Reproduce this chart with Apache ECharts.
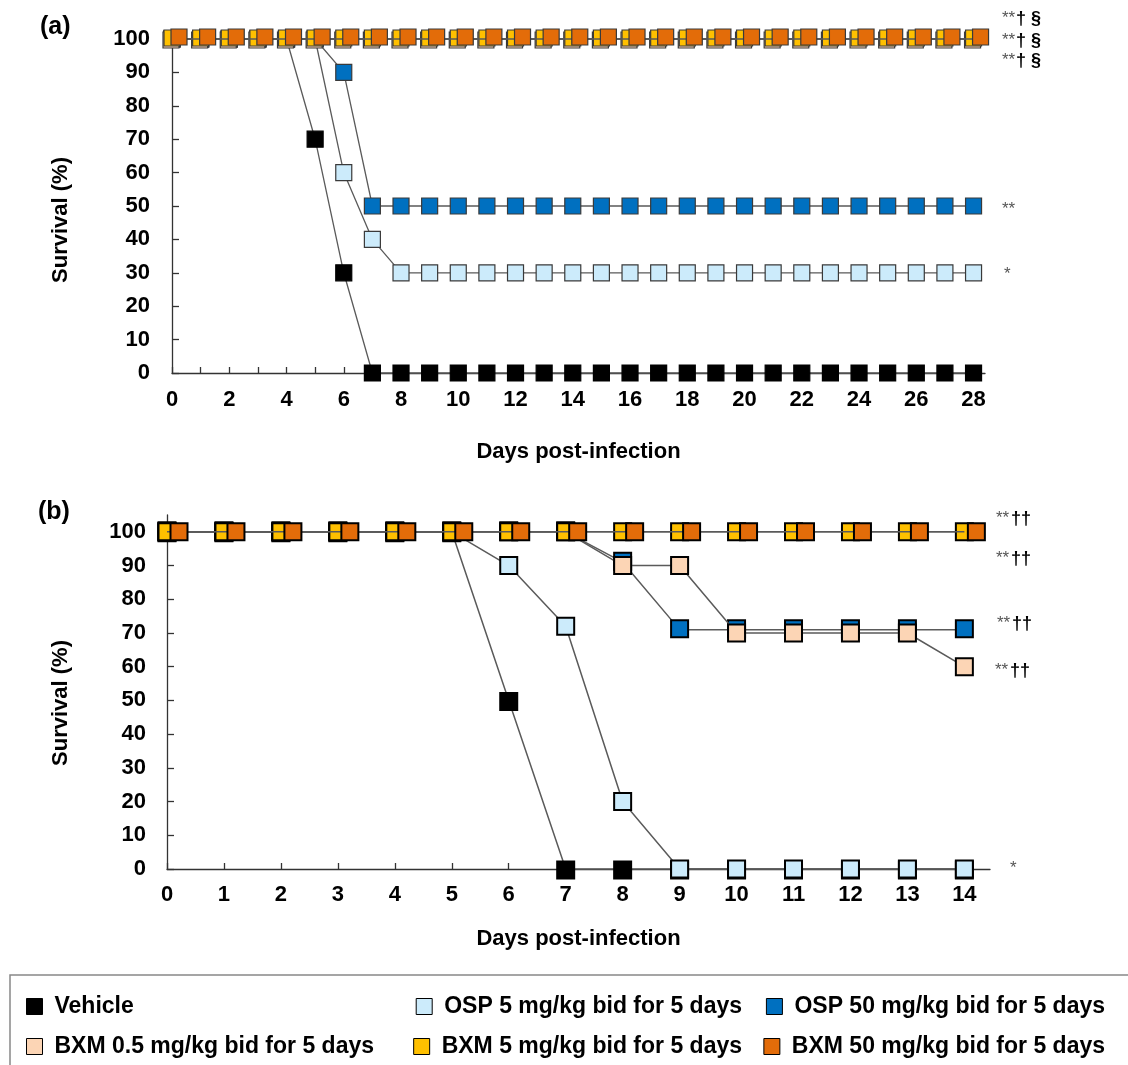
<!DOCTYPE html>
<html><head><meta charset="utf-8">
<script src="https://cdn.jsdelivr.net/npm/echarts@6/dist/echarts.min.js"></script>
<style>html,body{margin:0;padding:0;background:#fff}#c{width:1128px;height:1065px}</style>
</head><body><div id="c"></div>
<script>
const seriesNames = ['Vehicle','OSP 5 mg/kg bid for 5 days','OSP 50 mg/kg bid for 5 days','BXM 0.5 mg/kg bid for 5 days','BXM 5 mg/kg bid for 5 days','BXM 50 mg/kg bid for 5 days'];
const seriesColors = ['#000000','#CCEBFB','#0070C0','#FCD5B5','#FFC000','#E36C09'];

// Panel (a): days 0-28
const daysA = [0,1,2,3,4,5,6,7,8,9,10,11,12,13,14,15,16,17,18,19,20,21,22,23,24,25,26,27,28];
const vehicleA = [100,100,100,100,100,70,30,0,0,0,0,0,0,0,0,0,0,0,0,0,0,0,0,0,0,0,0,0,0];
const osp5A    = [100,100,100,100,100,100,60,40,30,30,30,30,30,30,30,30,30,30,30,30,30,30,30,30,30,30,30,30,30];
const osp50A   = [100,100,100,100,100,100,90,50,50,50,50,50,50,50,50,50,50,50,50,50,50,50,50,50,50,50,50,50,50];
const bxm05A   = [100,100,100,100,100,100,100,100,100,100,100,100,100,100,100,100,100,100,100,100,100,100,100,100,100,100,100,100,100];
const bxm5A    = [100,100,100,100,100,100,100,100,100,100,100,100,100,100,100,100,100,100,100,100,100,100,100,100,100,100,100,100,100];
const bxm50A   = [100,100,100,100,100,100,100,100,100,100,100,100,100,100,100,100,100,100,100,100,100,100,100,100,100,100,100,100,100];

// Panel (b): days 0-14
const daysB = [0,1,2,3,4,5,6,7,8,9,10,11,12,13,14];
const vehicleB = [100,100,100,100,100,100,50,0,0,0,0,0,0,0,0];
const osp5B    = [100,100,100,100,100,100,90,72,20,0,0,0,0,0,0];
const osp50B   = [100,100,100,100,100,100,100,100,91,71,71,71,71,71,71];
const bxm05B   = [100,100,100,100,100,100,100,100,90,90,70,70,70,70,60];
const bxm5B    = [100,100,100,100,100,100,100,100,100,100,100,100,100,100,100];
const bxm50B   = [100,100,100,100,100,100,100,100,100,100,100,100,100,100,100];

// Tick values / labels
const yTickVals = [0,10,20,30,40,50,60,70,80,90,100];
const xTickValsA = [0,1,2,3,4,5,6,7,8,9,10,11,12,13,14,15,16,17,18,19,20,21,22,23,24,25,26,27,28];
const xLabelValsA = [0,2,4,6,8,10,12,14,16,18,20,22,24,26,28];
const xTickValsB = [0,1,2,3,4,5,6,7,8,9,10,11,12,13,14];

const FONT = 'Liberation Sans, Arial, sans-serif';
const chart = echarts.init(document.getElementById('c'), null, {renderer: 'canvas'});

const valsA = [vehicleA, osp5A, osp50A, bxm05A, bxm5A, bxm50A];
const valsB = [vehicleB, osp5B, osp50B, bxm05B, bxm5B, bxm50B];
const offsA = [[0,0],[0,0],[0,0],[-1,1],[0,-1],[7,-2]];
const offsB = [[0,1],[0,0],[0,-1],[0,0],[0,0],[12,0]];

function mkSeries(vals, days, axisIdx, size, bw, offs, bcol, lw) {
  return vals.map((v, i) => ({
    name: seriesNames[i], type: 'line', xAxisIndex: axisIdx, yAxisIndex: axisIdx,
    data: days.map((d, k) => [d, v[k]]),
    symbol: 'rect', symbolSize: size, symbolOffset: offs[i],
    itemStyle: {color: seriesColors[i], borderColor: i === 0 ? '#000' : bcol, borderWidth: bw},
    lineStyle: {color: '#5a5a5a', width: lw},
    z: 2 + i, clip: false, silent: true, animation: false,
    emphasis: {disabled: true}
  }));
}

const axisLineStyle = {lineStyle: {color: '#333', width: 1.3}};
const labelStyle = {fontFamily: FONT, fontWeight: 'bold', fontSize: 22, color: '#000'};
const nameStyle = {fontFamily: FONT, fontWeight: 'bold', fontSize: 22, color: '#000'};

function legendItem(name, pos, top) {
  return Object.assign({
    data: [name], top: top, padding: 0, orient: 'horizontal', selectedMode: false,
    icon: 'rect', itemWidth: 16, itemHeight: 16,
    itemStyle: {borderColor: '#000', borderWidth: 1},
    textStyle: {fontFamily: FONT, fontWeight: 'bold', fontSize: 23, color: '#000', padding: [0,0,0,7]}
  }, pos);
}

function ann(x, y, stars, sym, symX) {
  const out = [{type: 'text', z: 50, style: {text: stars, x: x, y: y - 1, font: '17px ' + FONT, fill: '#555', align: 'left', verticalAlign: 'middle'}}];
  if (sym) out.push({type: 'text', z: 50, style: {text: sym, x: symX, y: y, font: 'bold 18px ' + FONT, fill: '#000', align: 'left', verticalAlign: 'middle'}});
  return out;
}

const option = {
  backgroundColor: '#fff',
  animation: false,
  grid: [
    {left: 172, top: 39, width: 813, height: 334},
    {left: 167, top: 515, width: 823, height: 354}
  ],
  xAxis: [
    {type: 'value', gridIndex: 0, min: 0, max: 28.4,
     name: 'Days post-infection', nameLocation: 'middle', nameGap: 68, nameTextStyle: nameStyle,
     axisLine: axisLineStyle, splitLine: {show: false},
     axisTick: {customValues: xTickValsA, inside: true, length: 6, lineStyle: {color: '#333', width: 1.3}},
     axisLabel: Object.assign({customValues: xLabelValsA, margin: 16}, labelStyle)},
    {type: 'value', gridIndex: 1, min: 0, max: 14.45,
     name: 'Days post-infection', nameLocation: 'middle', nameGap: 59, nameTextStyle: nameStyle,
     axisLine: axisLineStyle, splitLine: {show: false},
     axisTick: {customValues: xTickValsB, inside: true, length: 6, lineStyle: {color: '#333', width: 1.3}},
     axisLabel: Object.assign({customValues: xTickValsB, margin: 15}, labelStyle)}
  ],
  yAxis: [
    {type: 'value', gridIndex: 0, min: 0, max: 100,
     name: 'Survival (%)', nameLocation: 'middle', nameGap: 100,
     nameTextStyle: Object.assign({padding: [0, 28, 0, 0]}, nameStyle),
     axisLine: Object.assign({show: true}, axisLineStyle), splitLine: {show: false},
     axisTick: {show: true, customValues: yTickVals, inside: true, length: 7, lineStyle: {color: '#333', width: 1.3}},
     axisLabel: Object.assign({customValues: yTickVals, margin: 22}, labelStyle)},
    {type: 'value', gridIndex: 1, min: 0, max: 105,
     name: 'Survival (%)', nameLocation: 'middle', nameGap: 95,
     nameTextStyle: Object.assign({padding: [0, 22, 0, 0]}, nameStyle),
     axisLine: Object.assign({show: true}, axisLineStyle), splitLine: {show: false},
     axisTick: {show: true, customValues: yTickVals, inside: true, length: 7, lineStyle: {color: '#333', width: 1.3}},
     axisLabel: Object.assign({customValues: yTickVals, margin: 21}, labelStyle)}
  ],
  legend: [
    legendItem(seriesNames[0], {left: 26}, 995),
    legendItem(seriesNames[1], {right: 386}, 995),
    legendItem(seriesNames[2], {right: 23}, 995),
    legendItem(seriesNames[3], {left: 26}, 1035),
    legendItem(seriesNames[4], {right: 386}, 1035),
    legendItem(seriesNames[5], {right: 23}, 1035)
  ],
  graphic: [
    {type: 'rect', z: 0, shape: {x: 10, y: 975, width: 1140, height: 110}, style: {fill: 'none', stroke: '#888', lineWidth: 1.5}},
    {type: 'text', style: {text: '(a)', x: 40, y: 27, font: 'bold 25px ' + FONT, fill: '#000', verticalAlign: 'middle'}},
    {type: 'text', style: {text: '(b)', x: 38, y: 512, font: 'bold 25px ' + FONT, fill: '#000', verticalAlign: 'middle'}},
    ...ann(1002, 19, '**', '† §', 1016),
    ...ann(1002, 41, '**', '† §', 1016),
    ...ann(1002, 61, '**', '† §', 1016),
    ...ann(1002, 210, '**'),
    ...ann(1004, 275, '*'),
    ...ann(996, 519, '**', '††', 1011),
    ...ann(996, 559, '**', '††', 1011),
    ...ann(997, 624, '**', '††', 1012),
    ...ann(995, 671, '**', '††', 1010),
    ...ann(1010, 869, '*')
  ],
  series: [
    ...mkSeries(valsA, daysA, 0, 16, 1.2, offsA, '#3a3a3a', 1.3),
    ...mkSeries(valsB, daysB, 1, 17, 2, offsB, '#000', 1.5)
  ]
};
chart.setOption(option);
</script></body></html>
